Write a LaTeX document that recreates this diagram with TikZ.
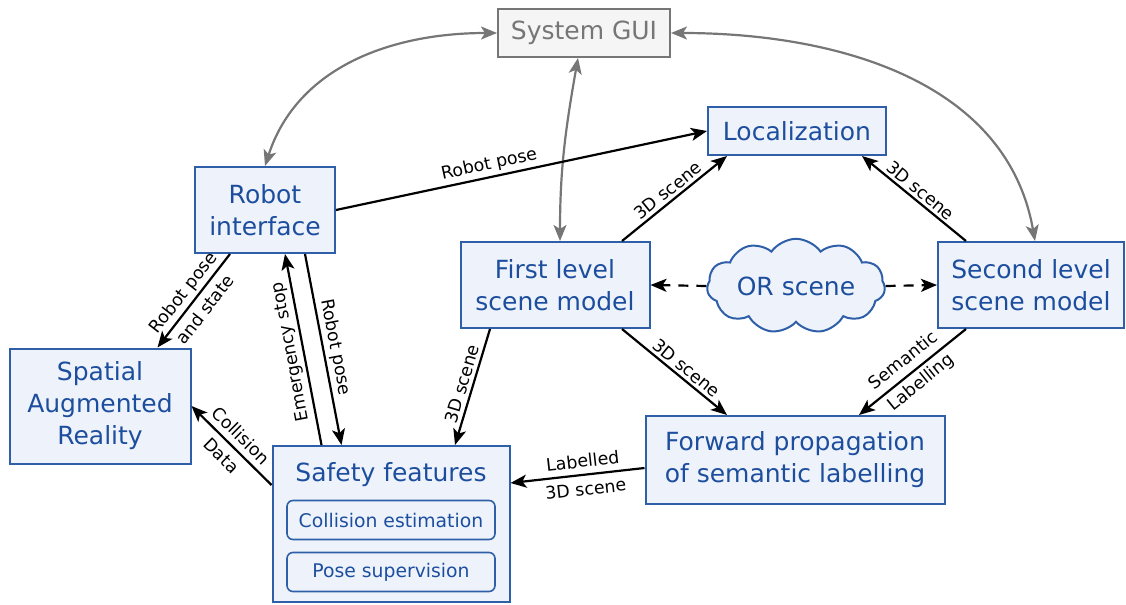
\documentclass[tikz,border=0pt]{standalone}
\usepackage{fontspec}
\setmainfont{DejaVu Sans}
\usetikzlibrary{arrows.meta, positioning, calc, shapes.symbols}

\definecolor{boxblue}{HTML}{2F5FA8}
\definecolor{boxfill}{HTML}{EEF3FB}
\definecolor{textblue}{HTML}{1D4E9E}
\definecolor{guigray}{HTML}{767676}

\begin{document}
\begin{tikzpicture}[x=0.5pt, y=-0.5pt,
  %% Node styles
  mblock/.style ={draw=boxblue, fill=boxfill, text=textblue, line width=1pt,
                  align=center, inner sep=0pt, font=\fontsize{12.5}{16}\selectfont},
  sblock/.style ={draw=boxblue, fill=boxfill, text=textblue, line width=0.8pt,
                  rounded corners=3pt, minimum width=104pt, minimum height=19.5pt,
                  inner sep=0pt, font=\fontsize{9.4}{11}\selectfont},
  gblock/.style ={draw=guigray, fill=gray!8, text=guigray, line width=1pt,
                  inner sep=0pt, font=\fontsize{12.5}{16}\selectfont},
  cloudnode/.style={cloud, cloud puffs=11, cloud puff arc=110, aspect=2.3,
                  draw=boxblue, fill=boxfill, text=textblue, line width=1pt,
                  inner sep=0pt, font=\fontsize{12.5}{16}\selectfont},
  %% Arrows and labels
  arr/.style  ={-{Stealth[length=8pt, width=6.5pt, inset=2pt]}, line width=1.1pt},
  darr/.style ={-{Stealth[length=8pt, width=6.5pt, inset=2pt]}, line width=1.1pt,
                dash pattern=on 5pt off 4pt},
  garr/.style ={{Stealth[length=8pt, width=6.5pt, inset=2pt]}-{Stealth[length=8pt, width=6.5pt, inset=2pt]},
                line width=1.1pt, guigray},
  lbl/.style  ={font=\fontsize{8.7}{10.5}\selectfont, sloped, align=center, inner sep=1.5pt},
  lbltwo/.style={lbl, font=\fontsize{8.7}{14}\selectfont}
]
\useasboundingbox (0,0) rectangle (1126,605);

%% ── TOP: GUI AND LOCALIZATION ─────────────────────────────────
\node[gblock, minimum width=86pt, minimum height=24pt] (gui) at (584,33) {System GUI};
\node[mblock, minimum width=89pt, minimum height=24pt] (loc) at (797,131) {Localization};

%% ── MIDDLE ROW ────────────────────────────────────────────────
\node[mblock, minimum width=70pt, minimum height=43pt]   (robot)  at (265,210)  {Robot\\interface};
\node[mblock, minimum width=94.5pt, minimum height=43pt] (first)  at (555,285)  {First level\\scene model};
\node[mblock, minimum width=93pt, minimum height=43pt]   (second) at (1031,285) {Second level\\scene model};
\node[cloudnode, minimum width=89pt, minimum height=42.5pt] (orscene) at (796,286) {OR scene};

%% ── BOTTOM ROW ────────────────────────────────────────────────
\node[mblock, minimum width=90.5pt, minimum height=57.5pt] (sar) at (100,406)
  {Spatial\\Augmented\\Reality};
\node[mblock, minimum width=149.5pt, minimum height=44pt] (fwd) at (795,460)
  {Forward propagation\\of semantic labelling};

%% safety block with its two sub-features
\node[mblock, minimum width=118.5pt, minimum height=78pt] (safety) at (391,524) {};
\node[text=textblue, font=\fontsize{12.5}{16}\selectfont] (safetytitle) at (391,475) {Safety features};
\node[sblock] (collest) at (391,520) {Collision estimation};
\node[sblock] (posesup) at (391,572) {Pose supervision};

%% ── GUI LINKS ─────────────────────────────────────────────────
\draw[garr] (robot.north) to[out=72, in=180] (gui.west);
\draw[garr] ([xshift=-3pt]gui.south) to[out=-100, in=90] ([xshift=2.5pt]first.north);
\draw[garr] (gui.east) to[out=0, in=100] ([xshift=2pt]second.north);

%% ── SCENE DATA FLOW ───────────────────────────────────────────
\draw[arr] (robot.east) -- (loc.west)
  node[lbl, pos=0.42, above] {Robot pose};
\draw[arr] ([xshift=33.5pt]first.north) -- ([xshift=-35pt]loc.south)
  node[lbl, midway, above] {3D scene};
\draw[arr] ([xshift=-32.5pt]second.north) -- ([xshift=32.5pt]loc.south)
  node[lbl, midway, above] {3D scene};

%% OR scene feeds both scene models
\draw[darr] (orscene.west) -- (first.east);
\draw[darr] (orscene.east) -- (second.west);

\draw[arr] ([xshift=33.5pt]first.south) -- ([xshift=-34pt]fwd.north)
  node[lbl, pos=0.55, above] {3D scene};
\draw[arr] ([xshift=-32.5pt]second.south) -- ([xshift=32pt]fwd.north)
  node[lbltwo, midway] {Semantic\\Labelling};
\draw[arr] ([xshift=-32.5pt]first.south) -- ([xshift=32pt]safety.north)
  node[lbl, midway, above] {3D scene};
\draw[arr] ([yshift=-4pt]fwd.west) -- ([yshift=20.5pt]safety.east)
  node[lbltwo, pos=0.45] {Labelled\\3D scene};

%% ── ROBOT AND SAFETY LINKS ────────────────────────────────────
\draw[arr] ([xshift=-17.5pt]robot.south) -- ([xshift=28.75pt]sar.north)
  node[lbltwo, midway] {Robot pose\\and state};
\draw[arr] ([xshift=-34.75pt]safety.north) -- ([xshift=10pt]robot.south)
  node[lbl, midway, above, allow upside down] {Emergency stop};
\draw[arr] ([xshift=20pt]robot.south) -- ([xshift=-24.75pt]safety.north)
  node[lbl, midway, above] {Robot pose};
\draw[arr] ([yshift=19.5pt]safety.west) -- (sar.east)
  node[lbltwo, midway] {Collision\\Data};

\end{tikzpicture}
\end{document}
